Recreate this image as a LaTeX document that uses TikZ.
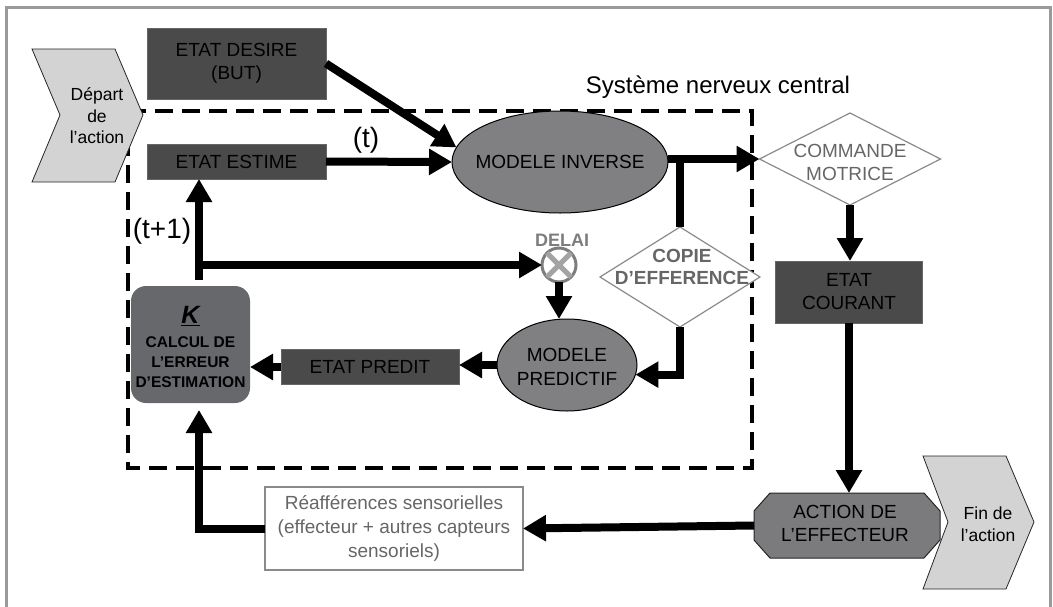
\documentclass[tikz,border=0pt]{standalone}
\usepackage{fontspec}
\setmainfont{Liberation Sans}
\usetikzlibrary{arrows.meta,shapes.geometric,calc}
\definecolor{darkbox}{HTML}{4A4A4A}
\definecolor{boxline}{HTML}{666666}
\definecolor{ellfill}{HTML}{808083}
\definecolor{kfill}{HTML}{67686C}
\definecolor{actfill}{HTML}{7B7B7D}
\definecolor{chevfill}{HTML}{D3D3D3}
\definecolor{lgray}{HTML}{8A8A8A}
\definecolor{gtxt}{HTML}{666666}
\definecolor{framec}{HTML}{9A9A9C}
\definecolor{xgray}{HTML}{A3A3A3}
\definecolor{cgray}{HTML}{7D7D7D}
\begin{document}
\begin{tikzpicture}[x=1pt,y=-1pt,
  every node/.style={inner sep=0pt, outer sep=0pt},
  lbl/.style={align=center, font=\fontsize{19}{23}\selectfont},
  dbox/.style={rectangle, draw=boxline, line width=0.8pt, fill=darkbox, lbl},
  dtxt/.style={lbl, text=black},
  ell/.style={ellipse, draw=black, line width=1pt, fill=ellfill},
  dia/.style={diamond, draw=lgray, line width=1.2pt, fill=white},
  chev/.style={draw=black!85, line width=0.8pt, fill=chevfill},
  chevtxt/.style={align=center, font=\fontsize{17.5}{21.5}\selectfont, text=black},
  arr/.style={line width=8pt, -{Triangle[length=23pt,width=25pt]}},
  thk/.style={line width=8pt},
  tlbl/.style={font=\fontsize{28}{30}\selectfont}
]
\useasboundingbox (0,0) rectangle (1053,606);
\draw[framec, line width=3pt] (6,630) -- (6,7) -- (1050,7) -- (1050,630);

% central nervous system frame
\draw[line width=4pt, dash pattern=on 18pt off 9pt] (128,111) rectangle (752,468);
\node[font=\fontsize{24}{28}\selectfont, anchor=base] (cns) at (718,93) {Système nerveux central};

% chevrons
\draw[chev] (32,49) -- (115,49) -- (143,115) -- (115,182) -- (32,182) -- (60,115) -- cycle;
\node[chevtxt] (dep) at (97,116) {Départ\\de\\l'action};
\draw[chev] (923,456) -- (1006,456) -- (1034,522) -- (1006,589) -- (923,589) -- (948,522) -- cycle;
\node[chevtxt] (fin) at (988,524) {Fin de\\l'action};

% dark boxes
\node[dbox, minimum width=179pt, minimum height=71pt] (desire) at (236.5,63.5) {};
\node[dtxt] (desiretxt) at (desire) {ETAT DESIRE\\(BUT)};
\node[dbox, minimum width=179pt, minimum height=35pt] (estime) at (236.5,161.5) {};
\node[dtxt] (estimetxt) at (estime) {ETAT ESTIME};
\node[dbox, minimum width=147pt, minimum height=62pt] (courant) at (849,292) {};
\node[dtxt] (couranttxt) at (courant) {ETAT\\COURANT};
\node[dbox, minimum width=178pt, minimum height=35pt] (predit) at (370,367) {};
\node[dtxt] (predittxt) at (predit) {ETAT PREDIT};

% K box
\node[rectangle, rounded corners=15pt, fill=kfill, minimum width=119pt, minimum height=117pt] (kbox) at (190.5,344.5) {};
\node[font=\fontsize{25}{27}\selectfont\bfseries\itshape, text=black] (ktxt) at (190.5,316) {\underline{K}};
\node[align=center, font=\fontsize{15.5}{20}\selectfont\bfseries, text=black] (kcalc) at (190.5,362.5) {CALCUL DE\\L'ERREUR\\D'ESTIMATION};

% ellipses
\node[ell, minimum width=216pt, minimum height=102pt] (inv) at (560,162) {};
\node[dtxt] (invtxt) at (560,162) {MODELE INVERSE};
\node[ell, minimum width=140pt, minimum height=92pt] (pred) at (567,365) {};
\node[dtxt, font=\fontsize{19}{24}\selectfont] (predtxt) at (567,367) {MODELE\\PREDICTIF};

% diamonds
\node[dia, minimum width=181pt, minimum height=92pt] (cmd) at (850,159) {};
\node[lbl, text=gtxt] (cmdtxt) at (850,162.5) {COMMANDE\\MOTRICE};
\node[dia, minimum width=160pt, minimum height=100pt] (copie) at (680,277) {};
\node[lbl, text=gtxt, font=\fontsize{19}{22}\selectfont\bfseries] (copietxt) at (682,267) {COPIE\\D'EFFERENCE};

% delay
\node[circle, draw=cgray, line width=3pt, minimum size=34pt] (delai) at (559,265) {};
\draw[xgray, line width=5pt] (delai.45) -- (delai.225);
\draw[xgray, line width=5pt] (delai.135) -- (delai.-45);
\node[font=\fontsize{18}{20}\selectfont\bfseries, text=cgray] (delaitxt) at (562,240.5) {DELAI};

% action of the effector
\draw[draw=black!85, line width=1pt, fill=actfill] (770,493) -- (924,493) -- (940,511) -- (940,540) -- (924,558) -- (770,558) -- (754,540) -- (754,511) -- cycle;
\node[minimum width=186pt, minimum height=65pt] (action) at (847,525.5) {};
\node[dtxt] (acttxt) at (845,523) {ACTION DE\\L'EFFECTEUR};

% sensory reafferences
\node[rectangle, draw=lgray, line width=1.5pt, fill=white, minimum width=258pt, minimum height=83pt, lbl, text=gtxt, font=\fontsize{19}{24}\selectfont] (reaf) at (394,528.5) {Réafférences sensorielles\\(effecteur + autres capteurs\\sensoriels)};

% time labels
\node[tlbl] (tlab) at (366,140) {(t)};
\node[tlbl] (t1lab) at (162,231) {(t+1)};

% connectors
\coordinate (br) at (199,265);
\draw[arr] (desire.east) -- (inv.172);
\draw[arr] (estime.east) -- (inv.west);
\draw[arr] (inv.east |- cmd.west) -- (cmd.west);
\draw[thk] (copie.north) -- (copie.north |- cmd.west);
\draw[arr] (copie.south) |- (pred.-8.3);
\draw[arr] (cmd.south) -- (cmd.south |- courant.north);
\draw[arr] (courant.south) -- (courant.south |- action.north);
\draw[arr] (action.west) -- (reaf.east);
\draw[arr] (reaf.west) -| ([xshift=8.5pt,yshift=-7pt]kbox.south);
\draw[arr] ([xshift=8.5pt,yshift=6pt]kbox.north) -- ([xshift=8.5pt]kbox.north |- estime.south);
\draw[arr] (br) -- (delai.west);
\draw[arr] (delai.south) -- (pred.north -| delai.south);
\draw[arr] (pred.west) -- (pred.west -| predit.east);
\draw[arr] (predit.west) -- (predit.west -| kbox.east);
\end{tikzpicture}
\end{document}
